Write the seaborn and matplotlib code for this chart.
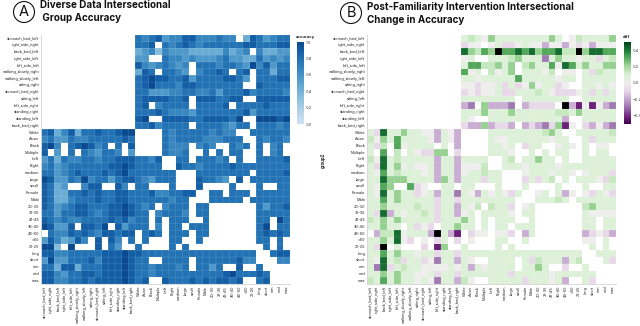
import numpy as np
import pandas as pd
import matplotlib
matplotlib.use('Agg')
import matplotlib.pyplot as plt
import seaborn as sns
from matplotlib.colors import LinearSegmentedColormap
from matplotlib.patches import Ellipse

GROUPS = ['stomach_bed_left', 'right_side_right', 'back_bed_left', 'right_side_left', 'left_side_left',
          'walking_slowly_right', 'walking_slowly_left', 'sitting_right', 'stomach_bed_right', 'sitting_left',
          'left_side_right', 'standing_right', 'standing_left', 'back_bed_right',
          'White', 'Asian', 'Black', 'Multiple', 'Left', 'Right', 'medium', 'large', 'small', 'Female', 'Male',
          '20-30', '31-35', '41-45', '36-40', '46-60', '>60', '21-25', 'long', 'short', 'min', 'mid', 'max']

# one digit per cell, '.' = no data. blocks: activities|race|hand|size|sex|age|hair|bmi
ACCURACY_ROWS = [
    ".............. 7678 56 688 66 6766.48 75 677",
    ".............. 778. 76 787 67 7777788 77 788",
    ".............. 4563 65 554 44 4464562 64 455",
    ".............. 55.. 76 656 55 5675544 75 656",
    ".............. 8656 76 56. 77 7677659 68 577",
    ".............. 487. 77 65. 67 787.78. 77 477",
    ".............. 7898 87 785 77 778875. 77 788",
    ".............. 7897 77 688 77 77777.. 87 777",
    ".............. 7755 56 677 66 7577786 77 776",
    ".............. 7888 87 78. 88 87788.. 88 888",
    ".............. 78.6 77 77. 77 778.777 78 777",
    ".............. 7778 76 665 77 7777785 77 777",
    ".............. 89.. 88 887 78 88879.. 99 989",
    ".............. 7786 77 77. 77 776577. 77 767",
    "78468477877899 .... 76 777 77 6766..7 77 777",
    "67557667777787 .... 76 777 76 66777.. 76 776",
    "896.789867.7.8 .... 76 66. 67 6..767. 7. 67.",
    "8.5.7.765776.5 .... 76 67. .7 .7.77.. 7. 67.",
    "57476677677888 7768 .. 77. 77 767.7.. 77 778",
    "67567777778898 7777 .. 877 67 7778777 77 777",
    "77567877787897 7777 77 ... 77 777777. 77 778",
    "98557696775788 7657 77 ... 87 765.8.7 77 777",
    "8745..688..86. 77.. .7 ... 8. ...7... 7. .77",
    "87447787877887 7786 67 788 .. 77.777. 77 777",
    "87446777877887 7777 76 77. .. 77777.7 77 777",
    "87567887778898 767. 67 77. 77 ....... 75 778",
    "77577887678898 77.6 77 76. 77 ....... 77 777",
    "87676677778786 77.7 .7 77. .7 ....... 77 .97",
    "98558.8879.857 77.6 .7 7.7 77 ....... 79 .77",
    ".7668787688788 .787 .7 77. 77 ....... 78 787",
    "5864586.8.86.7 .7.. .7 7.. 7. ....... 77 .7.",
    "993.9...8.75.. 7... .7 .7. .. ....... .7 .7.",
    "88667777788898 8777 77 777 77 7777777 .. 788",
    "59557778688898 77.. 77 77. 77 7777866 .. .66",
    "77488477788898 7767 77 67. 77 57..8.. 7. ...",
    "88657788788898 7767 77 777 77 7789777 87 ...",
    "88667787888898 78.. 87 778 78 78878.. 78 ...",
]

DIFF_ROWS = [
    ".............. 5654 75 555 55 5575.46 55 557",
    ".............. 344. 45 334 54 4244243 42 444",
    ".............. 9768 7X 889 89 788966X 79 988",
    ".............. 45.. 55 567 55 5157554 55 356",
    ".............. 5886 67 57. 67 5584985 75 577",
    ".............. 845. 64 57. 55 546.44. 53 655",
    ".............. 5545 55 558 55 555455. 55 555",
    ".............. 4434 45 353 47 45534.. 55 454",
    ".............. 3434 45 335 55 6543334 53 535",
    ".............. 5555 55 55. 55 55555.. 55 555",
    ".............. 21.7 22 21. 23 333.X20 40 421",
    ".............. 5557 55 575 55 5556657 55 555",
    ".............. 54.. 55 555 55 55552.. 55 555",
    ".............. 3227 23 32. 23 213704. 32 421",
    "53955755442542 .... 55 555 55 5675..5 55 556",
    "64758555542542 .... 54 455 55 55455.. 53 555",
    "536.845555.5.2 .... 55 45. 35 5..454. 5. 44.",
    "5.8.6.543377.3 .... 55 54. .5 .5.55.. 5. 55.",
    "64956555552552 5555 .. 56. 55 755.5.. 55 555",
    "53957454452552 4446 .. 555 45 5554555 55 555",
    "54856555452552 4556 55 ... 45 554554. 45 553",
    "55977755552752 5553 55 ... 35 356.5.5 55 436",
    "5487..834..55. 55.. .5 ... 5. ...5... 5. .55",
    "54957553452551 5425 45 435 .. 45.524. 43 543",
    "55857555553553 5555 55 55. .. 55565.5 55 555",
    "55755556553552 546. 65 53. 45 ....... 67 555",
    "53925455653552 45.5 55 54. 55 ....... 54 444",
    "65757555553555 75.5 .5 55. .5 ....... 55 .55",
    "55755.5343.557 55.5 .5 5.5 55 ....... 55 .55",
    ".266945552X520 .344 .4 43. 25 ....... 23 432",
    "5575943.4.35.3 .4.. .5 5.. 5. ....... 44 .5.",
    "53X.5...3.07.. 5... .5 .5. .. ....... .5 .5.",
    "55857554553553 5555 55 555 55 5555555 .. 555",
    "54956355341552 54.. 55 55. 53 6555256 .. .53",
    "51935655444454 5254 55 55. 55 75..3.. 5. ...",
    "55757554453553 5555 55 535 55 5545555 55 ...",
    "65857554541552 64.. 55 555 35 55452.. 53 ...",
]

ACCURACY_LEVELS = {'3': 0.33, '4': 0.44, '5': 0.56, '6': 0.67, '7': 0.78, '8': 0.89, '9': 1.0}
DIFF_LEVELS = {'0': -0.42, '1': -0.28, '2': -0.18, '3': -0.08, '4': 0.0, '5': 0.08, '6': 0.14,
               '7': 0.22, '8': 0.31, '9': 0.42, 'X': 0.7}

BLUES = ['#cfe1f2', '#bed8ec', '#a8cee5', '#8fc1de', '#74b2d7', '#5ba3cf',
         '#4592c6', '#3181bd', '#206fb2', '#125ca4', '#0a4a90']
PRGN = ['#40004b', '#762a83', '#9970ab', '#c2a5cf', '#e7d4e8', '#eeeeee',
        '#d9f0d3', '#a6dba0', '#5aae61', '#1b7837', '#00441b']


def decode(rows, levels):
    table = []
    for row in rows:
        cells = row.replace(' ', '')
        table.append([levels.get(c, np.nan) for c in cells])
    return pd.DataFrame(table, index=GROUPS, columns=GROUPS)


accuracy = decode(ACCURACY_ROWS, ACCURACY_LEVELS)
diff = decode(DIFF_ROWS, DIFF_LEVELS)

sns.set_theme(style='white')
plt.rcParams['font.family'] = ['Inter', 'DejaVu Sans']

W, H = 640, 326
fig = plt.figure(figsize=(W / 100, H / 100), dpi=100)


def box(left, top, width, height):
    return [left / W, 1 - (top + height) / H, width / W, height / H]


def panel(data, left, cmap, vmin, vmax, cbar_left, ticks, cbar_title):
    ax = fig.add_axes(box(left, 35, 249, 249))
    cax = fig.add_axes(box(cbar_left, 42, 7, 82))
    sns.heatmap(data, ax=ax, cbar_ax=cax, cmap=cmap, vmin=vmin, vmax=vmax, linewidths=0,
                xticklabels=True, yticklabels=True, cbar_kws={'ticks': ticks})
    # faint cell borders, only visible on filled cells
    edges = np.arange(len(GROUPS) + 1)
    ax.vlines(edges, 0, len(GROUPS), color='white', alpha=0.14, linewidth=0.5, snap=False)
    ax.hlines(edges, 0, len(GROUPS), color='white', alpha=0.14, linewidth=0.5, snap=False)
    ax.set_xticklabels(GROUPS, rotation=90)
    ax.set_yticklabels(GROUPS, rotation=0)
    ax.tick_params(axis='both', length=0.8, width=0.3, color='#999999', pad=0.5, labelsize=2.8, labelcolor='#222222')
    ax.set_xlabel('')
    ax.set_ylabel('')
    for side in ['left', 'bottom']:
        ax.spines[side].set_visible(True)
        ax.spines[side].set_color('#d8d8d8')
        ax.spines[side].set_linewidth(0.7)
    cax.tick_params(length=0, pad=1, labelsize=2.9, labelcolor='#333333')
    cax.collections[0].set_edgecolor('face')
    fig.text((cbar_left - 1) / W, 1 - 37 / H, cbar_title, fontsize=3, fontweight='bold', va='center')
    return ax


def heading(letter, cx, cy, x, y1, y2, line1, line2):
    fig.add_artist(Ellipse((cx / W, 1 - cy / H), 21 / W, 21 / H, transform=fig.transFigure,
                           fill=False, edgecolor='#111111', linewidth=0.8))
    fig.text(cx / W, 1 - cy / H, letter, fontsize=10.5, ha='center', va='center', color='#111111')
    fig.text(x / W, 1 - y1 / H, line1, fontsize=7.1, fontweight='bold', va='center', color='#111111')
    fig.text(x / W, 1 - y2 / H, line2, fontsize=7.1, fontweight='bold', va='center', color='#111111')


blues = LinearSegmentedColormap.from_list('acc_blues', BLUES)
prgn = LinearSegmentedColormap.from_list('diff_prgn', PRGN)
prgn.set_over('black')
prgn.set_under('black')

panel(accuracy, 41, blues, 0, 1, 297, [0, 0.2, 0.4, 0.6, 0.8, 1.0], 'accuracy')
panel(diff, 367, prgn, -0.5, 0.5, 624, [-0.4, -0.2, 0, 0.2, 0.4], 'diff')
fig.text(323 / W, 1 - 160 / H, 'group2', fontsize=3.2, fontweight='bold', rotation=90, ha='center', va='center')

heading('A', 24, 12, 40, 5, 18, 'Diverse Data Intersectional', ' Group Accuracy')
heading('B', 351, 13, 367, 7, 20, 'Post-Familiarity Intervention Intersectional', 'Change in Accuracy')

fig.savefig('out.png', dpi=100)
